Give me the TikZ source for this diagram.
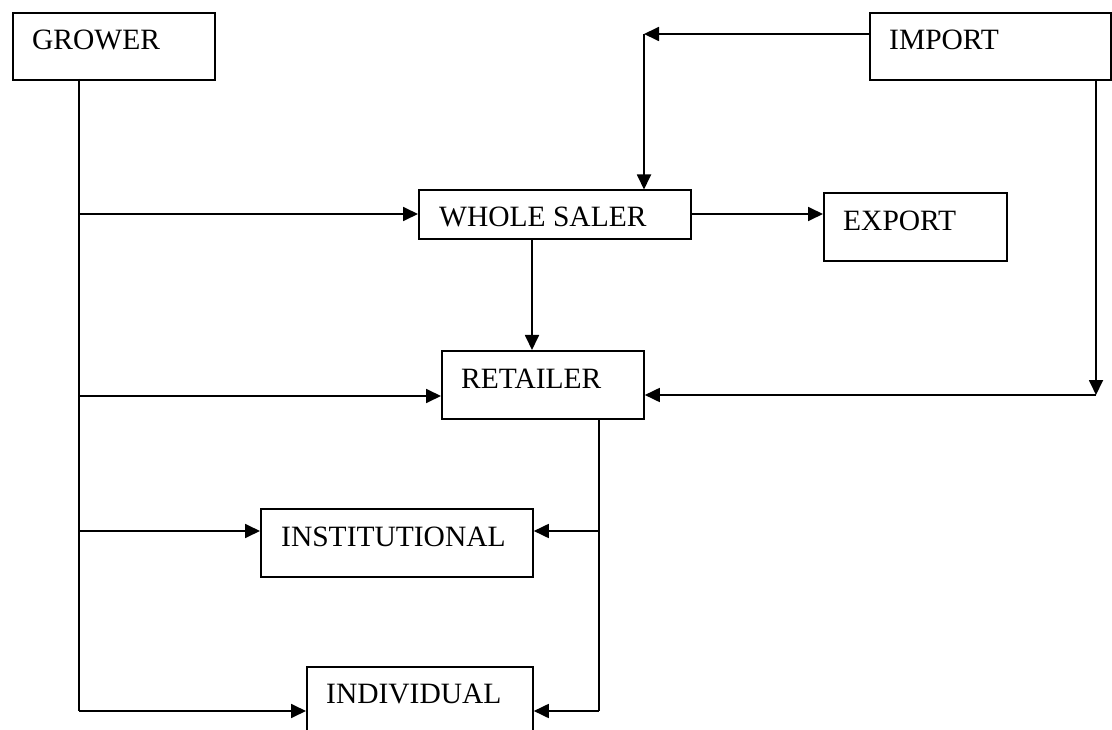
\documentclass[tikz,border=0pt]{standalone}
\usepackage{fontspec}
\setmainfont{Liberation Serif}
\usetikzlibrary{arrows.meta}
\begin{document}
\begin{tikzpicture}[x=1pt,y=-1pt,
  box/.style={draw, line width=1.8pt, inner sep=0pt, anchor=north west},
  lbl/.style={anchor=base west, inner sep=0pt, font=\fontsize{29.5}{34}\selectfont},
  conn/.style={line width=1.8pt},
  arr/.style={conn, -{Triangle[length=15pt,width=14pt]}}]
\useasboundingbox (0,0) rectangle (1112,730);
\clip (0,0) rectangle (1112,730);

% boxes
\node[box, minimum width=202, minimum height=67] (grower) at (12,12) {};
\node[box, minimum width=241, minimum height=67] (import) at (869,12) {};
\node[box, minimum width=272, minimum height=49] (whole) at (418,189.5) {};
\node[box, minimum width=183, minimum height=68] (export) at (823,192) {};
\node[box, minimum width=202, minimum height=68] (retailer) at (441,350) {};
\node[box, minimum width=272, minimum height=68] (inst) at (260,508) {};
\node[box, minimum width=226, minimum height=90] (indiv) at (306,666) {};

% labels
\node[lbl] (tgrower) at (32,50) {GROWER};
\node[lbl] (timport) at (889,50) {IMPORT};
\node[lbl] (twhole) at (439,227) {WHOLE SALER};
\node[lbl] (texport) at (843,231) {EXPORT};
\node[lbl] (tretailer) at (461,388) {RETAILER};
\node[lbl] (tinst) at (281,546) {INSTITUTIONAL};
\node[lbl] (tindiv) at (326,703) {INDIVIDUAL};

% junction coordinates
\coordinate (gtop) at (79,79);
\coordinate (g1) at (79,214);
\coordinate (g2) at (79,396);
\coordinate (g3) at (79,531);
\coordinate (gbot) at (79,711);
\coordinate (i1) at (644,34);
\coordinate (i2) at (1096,395);
\coordinate (w1) at (532,238.5);
\coordinate (r0) at (599,418);
\coordinate (r2) at (599,531);
\coordinate (r3) at (599,711);

% grower trunk
\draw[conn] (gtop) -- (gbot);
\draw[arr] (g1) -- (g1 -| whole.west);
\draw[arr] (g2) -- (g2 -| retailer.west);
\draw[arr] (g3) -- (g3 -| inst.west);
\draw[arr] (gbot) -- (gbot -| indiv.west);

% import
\draw[arr] (import.west |- i1) -- (i1);
\draw[arr] (i1) -- (i1 |- whole.north);
\draw[arr] (i2 |- import.south) -- (i2);
\draw[arr] (i2) -- (i2 -| retailer.east);

% whole saler
\draw[arr] (whole.east |- g1) -- (export.west |- g1);
\draw[arr] (w1) -- (w1 |- retailer.north);

% retailer trunk
\draw[conn] (r0) -- (r3);
\draw[arr] (r2) -- (r2 -| inst.east);
\draw[arr] (r3) -- (r3 -| indiv.east);
\end{tikzpicture}
\end{document}
